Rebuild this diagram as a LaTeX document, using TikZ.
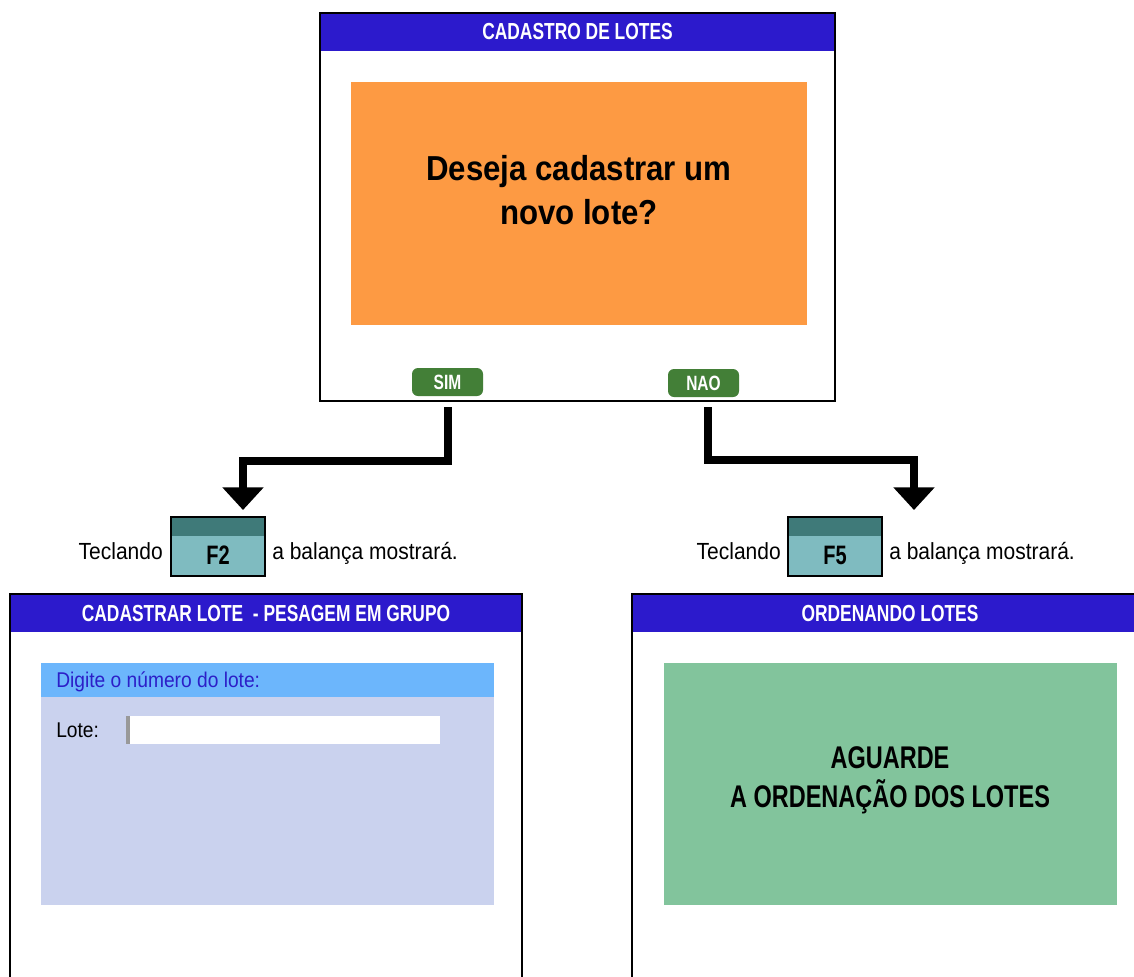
\documentclass[tikz,border=0pt]{standalone}
\usepackage{fontspec}
\setmainfont{Liberation Sans}[FakeStretch=0.9]
\newfontfamily\capsfont{Liberation Sans}[FakeStretch=0.75]
\usetikzlibrary{arrows.meta}
\definecolor{barblue}{HTML}{2C1ACC}
\definecolor{boxorange}{HTML}{FD9A43}
\definecolor{btngreen}{HTML}{437F37}
\definecolor{keydark}{HTML}{3F7A79}
\definecolor{keylight}{HTML}{7FBBC0}
\definecolor{hdrblue}{HTML}{6CB6FC}
\definecolor{lavender}{HTML}{CAD2EE}
\definecolor{boxgreen}{HTML}{82C49C}
\definecolor{txtblue}{HTML}{2C1FC8}
\tikzset{
  winborder/.style={draw=black, line width=2pt},
  titlebar/.style={fill=barblue},
  titletext/.style={text=white, font=\capsfont\bfseries\fontsize{17.4}{20}\selectfont, inner sep=0pt},
  btn/.style={fill=btngreen, rounded corners=4.5pt, minimum width=53.25pt, minimum height=21pt, inner sep=0pt,
    text=white, font=\capsfont\bfseries\fontsize{15.5}{17}\selectfont},
  keybox/.style={draw=black, line width=1.5pt, fill=keylight, minimum width=70.5pt, minimum height=44.25pt, inner sep=0pt,
    path picture={\fill[keydark] (path picture bounding box.north west) rectangle ([yshift=-14.25pt]path picture bounding box.north east);}},
  keytext/.style={font=\capsfont\bfseries\fontsize{20}{22}\selectfont, inner sep=0pt},
  plaintext/.style={font=\fontsize{16}{19}\selectfont, inner sep=0pt},
  keylabel/.style={font=\fontsize{17.5}{20}\selectfont, inner sep=0pt},
  conn/.style={line width=6pt, line join=miter, -{Triangle[width=30pt,length=17pt]}},
}
\begin{document}
\begin{tikzpicture}[x=0.75pt,y=-0.75pt]
\useasboundingbox (0,0) rectangle (1134,976);
\clip (0,0) rectangle (1134,976);
% ---------- top window ----------
\fill[white] (320,13) rectangle (835,401);
\fill[titlebar] (320,13) rectangle (835,51);
\node[titletext] (t1) at (577.5,32) {CADASTRO DE LOTES};
\fill[boxorange] (351,82) rectangle (807,325);
\node[align=center, inner sep=0pt, font=\bfseries\fontsize{26}{33}\selectfont] (q) at (579,190) {Deseja cadastrar um\\novo lote?};
\draw[winborder] (320,13) rectangle (835,401);
\node[btn] (sim) at (447.5,382) {SIM};
\node[btn] (nao) at (703.5,383) {NAO};
% ---------- connectors ----------
\coordinate (tipL) at (243,510);
\coordinate (tipR) at (914,510);
\draw[conn] ([yshift=-8.25pt]sim.south) -- ++(0,53.5) -| (tipL);
\draw[conn] ([xshift=3pt,yshift=-7.5pt]nao.south) -- ++(0,52.5) -| (tipR);
% ---------- keys ----------
\node[keybox] (f2) at (218,546.5) {};
\node[keytext, anchor=base] (f2t) at (218,564) {F2};
\node[keylabel, anchor=base east] (tec1) at (163,559) {Teclando};
\node[keylabel, anchor=base west] (bal1) at (272,559) {a balança mostrará.};
\node[keybox] (f5) at (835,546.5) {};
\node[keytext, anchor=base] (f5t) at (835,564) {F5};
\node[keylabel, anchor=base east] (tec2) at (781,559) {Teclando};
\node[keylabel, anchor=base west] (bal2) at (889,559) {a balança mostrará.};
% ---------- bottom left window ----------
\fill[white] (10,594) rectangle (522,1000);
\fill[titlebar] (10,594) rectangle (522,632);
\node[titletext] (t2) at (266,613) {CADASTRAR LOTE\ \ - PESAGEM EM GRUPO};
\fill[hdrblue] (41,663) rectangle (494,697);
\fill[lavender] (41,697) rectangle (494,905);
\node[plaintext, text=txtblue, anchor=base west] (dig) at (56,687) {Digite o número do lote:};
\node[plaintext, anchor=base west] (lote) at (56,737) {Lote:};
\fill[white] (126,716) rectangle (440,744);
\fill[black!40] (126,716) rectangle (130,744);
\draw[winborder] (10,594) rectangle (522,1000);
% ---------- bottom right window ----------
\fill[white] (632,594) rectangle (1160,1000);
\fill[titlebar] (632,594) rectangle (1160,632);
\node[titletext] (t3) at (890,613) {ORDENANDO LOTES};
\fill[boxgreen] (664,663) rectangle (1117,905);
\node[align=center, inner sep=0pt, font=\capsfont\bfseries\fontsize{23.5}{29}\selectfont] (ag) at (890,780.5) {AGUARDE\\A ORDENAÇÃO DOS LOTES};
\draw[winborder] (632,594) rectangle (1160,1000);
\end{tikzpicture}
\end{document}
